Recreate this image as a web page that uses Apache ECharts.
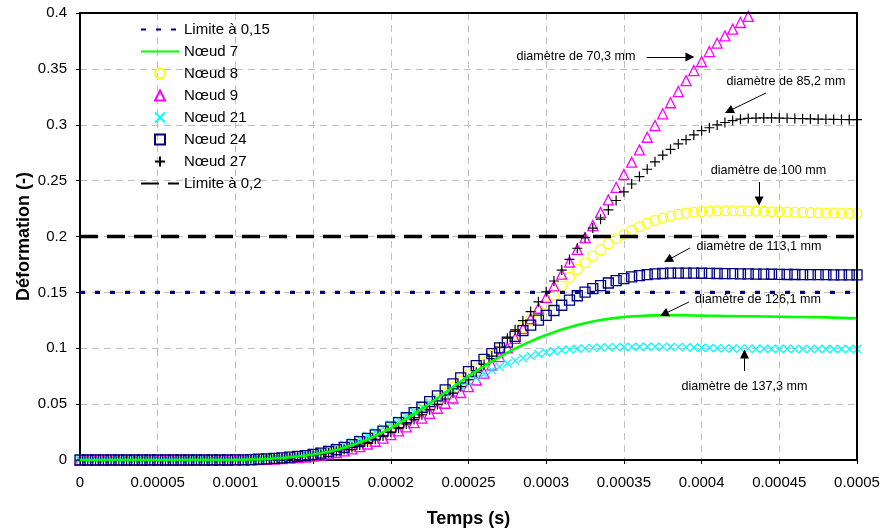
<!DOCTYPE html>
<html><head><meta charset="utf-8">
<script src="https://cdn.jsdelivr.net/npm/echarts@6/dist/echarts.min.js"></script>
<style>html,body{margin:0;padding:0;background:#fff}#c{width:885px;height:531px}</style>
</head><body><div id="c"></div>
<script>
// Time in microseconds
const timeMicros = [
  0,5,10,15,20,25,30,35,40,45,
  50,55,60,65,70,75,80,85,90,95,
  100,105,110,115,120,125,130,135,140,145,
  150,155,160,165,170,175,180,185,190,195,
  200,205,210,215,220,225,230,235,240,245,
  250,255,260,265,270,275,280,285,290,295,
  300,305,310,315,320,325,330,335,340,345,
  350,355,360,365,370,375,380,385,390,395,
  400,405,410,415,420,425,430,435,440,445,
  450,455,460,465,470,475,480,485,490,495,
  500
];
const node7 = [
  0,0,0,0,0,0,0,0,0,0,
  0,0,0,0,0,0,0,0,0,0,
  0.0001,0.0002,0.0004,0.0006,0.0009,0.0013,0.0018,0.0024,0.0031,0.0039,
  0.0049,0.006,0.0074,0.009,0.0109,0.0131,0.0156,0.0184,0.0215,0.0249,
  0.0286,0.0326,0.0368,0.0412,0.0458,0.0506,0.0555,0.0604,0.0653,0.0702,
  0.075,0.0796,0.084,0.0882,0.0922,0.096,0.0996,0.103,0.1062,0.1092,
  0.1119,0.1144,0.1167,0.1188,0.1207,0.1224,0.1239,0.1252,0.1263,0.1272,
  0.1279,0.1285,0.1289,0.1292,0.1294,0.1295,0.1295,0.1295,0.1294,0.1293,
  0.1292,0.1291,0.129,0.1289,0.1288,0.1287,0.1286,0.1285,0.1284,0.1283,
  0.1282,0.1281,0.128,0.1279,0.1278,0.1277,0.1276,0.1274,0.1272,0.127,
  0.1268
];
const node8 = [
  0,0,0,0,0,0,0,0,0,0,
  0,0,0,0,0,0,0,0,0,0,
  0.0001,0.0002,0.0003,0.0006,0.0009,0.0013,0.0018,0.0023,0.003,0.0038,
  0.0047,0.0058,0.0071,0.0087,0.0106,0.0128,0.0153,0.018,0.021,0.0243,
  0.0279,0.0318,0.036,0.0404,0.045,0.0498,0.0548,0.06,0.0653,0.0707,
  0.0762,0.082,0.0879,0.0939,0.1,0.1062,0.1125,0.1188,0.1255,0.1322,
  0.1392,0.1475,0.1555,0.1635,0.1705,0.1765,0.1825,0.188,0.1935,0.198,
  0.2018,0.2055,0.2088,0.2118,0.2143,0.2165,0.2183,0.2198,0.221,0.2218,
  0.2223,0.2227,0.2229,0.223,0.223,0.2229,0.2228,0.2227,0.2225,0.2223,
  0.2221,0.2219,0.2217,0.2215,0.2213,0.2212,0.221,0.2209,0.2208,0.2207,
  0.2206
];
const node9 = [
  0,0,0,0,0,0,0,0,0,0,
  0,0,0,0,0,0,0,0,0,0,
  0.0001,0.0001,0.0002,0.0004,0.0006,0.0009,0.0012,0.0016,0.0021,0.0027,
  0.0034,0.0043,0.0054,0.0067,0.0082,0.01,0.012,0.0143,0.0168,0.0196,
  0.0227,0.026,0.0296,0.0334,0.0375,0.0418,0.0463,0.0508,0.0555,0.0604,
  0.0656,0.0716,0.0778,0.085,0.0925,0.1003,0.1088,0.1175,0.1265,0.1358,
  0.1455,0.1558,0.1663,0.1772,0.1885,0.199,0.2098,0.2215,0.2327,0.244,
  0.2555,0.2665,0.2775,0.2888,0.2993,0.3098,0.3197,0.3297,0.3395,0.3485,
  0.3565,0.3655,0.373,0.3795,0.3855,0.3915,0.397
];
const node21 = [
  0,0,0,0,0,0,0,0,0,0,
  0,0,0,0,0,0,0,0,0,0,
  0.0001,0.0003,0.0005,0.0008,0.0012,0.0017,0.0023,0.003,0.0039,0.005,
  0.0065,0.008,0.0097,0.0116,0.0137,0.016,0.0187,0.0217,0.025,0.0285,
  0.032,0.0357,0.0395,0.0434,0.0473,0.0512,0.055,0.0588,0.0625,0.066,
  0.0698,0.0735,0.077,0.0803,0.0834,0.0863,0.0889,0.0912,0.0932,0.0949,
  0.0962,0.0973,0.0982,0.0989,0.0995,0.0999,0.1003,0.1006,0.1008,0.101,
  0.1011,0.1012,0.1013,0.1013,0.1013,0.1012,0.1011,0.101,0.1008,0.1006,
  0.1004,0.1002,0.1,0.0999,0.0998,0.0997,0.0997,0.0996,0.0996,0.0995,
  0.0995,0.0995,0.0994,0.0994,0.0994,0.0994,0.0993,0.0993,0.0993,0.0993,
  0.0993
];
const node24 = [
  0,0,0,0,0,0,0,0,0,0,
  0,0,0,0,0,0,0,0,0,0,
  0.0001,0.0002,0.0004,0.0007,0.001,0.0014,0.0019,0.0025,0.0032,0.004,
  0.005,0.0062,0.0076,0.0093,0.0113,0.0137,0.0165,0.0193,0.0224,0.0258,
  0.0295,0.0335,0.0378,0.0424,0.0472,0.0522,0.0574,0.0627,0.0681,0.0735,
  0.079,0.0845,0.09,0.0952,0.1003,0.1055,0.1107,0.1158,0.1207,0.1252,
  0.1295,0.1338,0.1385,0.143,0.147,0.1503,0.1533,0.156,0.1584,0.1605,
  0.1623,0.1638,0.165,0.1659,0.1665,0.1669,0.1672,0.1673,0.1673,0.1672,
  0.1671,0.167,0.1669,0.1668,0.1667,0.1666,0.1665,0.1664,0.1663,0.1662,
  0.1661,0.166,0.166,0.1659,0.1659,0.1658,0.1658,0.1657,0.1657,0.1656,
  0.1656
];
const node27 = [
  0,0,0,0,0,0,0,0,0,0,
  0,0,0,0,0,0,0,0,0,0,
  0.0001,0.0001,0.0003,0.0005,0.0007,0.001,0.0014,0.0019,0.0025,0.0032,
  0.004,0.005,0.0062,0.0076,0.0093,0.0112,0.0134,0.0158,0.0185,0.0215,
  0.0248,0.0284,0.0322,0.0362,0.0405,0.045,0.0497,0.0546,0.0598,0.0656,
  0.0718,0.0785,0.0855,0.093,0.101,0.109,0.1165,0.1247,0.1328,0.1415,
  0.1505,0.1602,0.17,0.1795,0.1895,0.199,0.2075,0.2155,0.2238,0.2322,
  0.24,0.247,0.2536,0.2602,0.2668,0.2728,0.278,0.2828,0.2866,0.2909,
  0.2947,0.2973,0.2998,0.302,0.3037,0.305,0.3057,0.306,0.3061,0.3061,
  0.306,0.3058,0.3056,0.3054,0.3052,0.305,0.3049,0.3048,0.3047,0.3046,
  0.3045
];
const limitLow = 0.15;
const limitHigh = 0.2;
const xTickLabels = ['0','0.00005','0.0001','0.00015','0.0002','0.00025','0.0003','0.00035','0.0004','0.00045','0.0005'];
const yTickLabels = ['0','0.05','0.1','0.15','0.2','0.25','0.3','0.35','0.4'];
const seriesNames = ['Limite à 0,15','Nœud 7','Nœud 8','Nœud 9','Nœud 21','Nœud 24','Nœud 27','Limite à 0,2'];
const xTitle = 'Temps (s)';
const yTitle = 'Déformation (-)';
// annotations: text with its anchor (t, value); arrows: [from, to] in data units
const annotationTexts = [
  ['diamètre de 70,3 mm', 0.0003192, 0.3607],
  ['diamètre de 85,2 mm', 0.0004543, 0.3383],
  ['diamètre de 100 mm', 0.000443, 0.2586],
  ['diamètre de 113,1 mm', 0.0004369, 0.1906],
  ['diamètre de 126,1 mm', 0.0004363, 0.1432],
  ['diamètre de 137,3 mm', 0.0004276, 0.0662]
];
const annotationArrows = [
  [[0.0003647, 0.3607], [0.0003925, 0.3607]],
  [[0.0004414, 0.3284], [0.0004176, 0.3123]],
  [[0.000437, 0.2488], [0.000437, 0.2318]],
  [[0.0003925, 0.1897], [0.0003784, 0.179]],
  [[0.0003919, 0.1414], [0.0003758, 0.1306]],
  [[0.0004276, 0.0796], [0.0004276, 0.0949]]
];

const xMin = 0, xMax = 0.0005, xStep = 0.00005;
const yMin = 0, yMax = 0.4, yStep = 0.05;
const toPairs = vals => vals.map((v, i) => [timeMicros[i] * 1e-6, v]);
const FONT = '"Liberation Sans", Arial, sans-serif';

const chart = echarts.init(document.getElementById('c'), null, {renderer: 'canvas'});
const hollow = (symbol, color, size, bw) => ({
  type: 'scatter', symbol: symbol, symbolSize: size, symbolKeepAspect: true,
  itemStyle: {color: 'transparent', borderColor: color, borderWidth: bw, opacity: 1},
  emphasis: {disabled: true}
});
// legend icons drawn inside a 38x10 box (invisible move-to corners keep the aspect)
const iconTri = 'path://M0 0M38 10M19 0L24 10L14 10Z';
const iconRect = 'path://M0 0M38 10M14 0L24 0L24 10L14 10Z';

const series = [
  {name: seriesNames[0], type: 'line', symbol: 'none', data: [[xMin, limitLow], [xMax, limitLow]],
   lineStyle: {color: '#000080', width: 3.3, type: [5, 10]}, itemStyle: {color: '#000080'}},
  {name: seriesNames[1], type: 'line', symbol: 'none', data: toPairs(node7),
   lineStyle: {color: '#00ff00', width: 2.6}, itemStyle: {color: '#00ff00'}},
  Object.assign(hollow('circle', '#ffff00', 10, 1.2), {name: seriesNames[2], data: toPairs(node8)}),
  Object.assign(hollow('triangle', '#ff00ff', 10, 1.3), {name: seriesNames[3], data: toPairs(node9)}),
  Object.assign(hollow('path://M0 0L10 10M10 0L0 10', '#00ffff', 8, 1.3), {name: seriesNames[4], data: toPairs(node21)}),
  Object.assign(hollow('rect', '#000080', 10, 1.3), {name: seriesNames[5], data: toPairs(node24)}),
  Object.assign(hollow('path://M5 0L5 10M0 5L10 5', '#000000', 10, 1.2), {name: seriesNames[6], data: toPairs(node27)}),
  {name: seriesNames[7], type: 'line', symbol: 'none', data: [[xMin, limitHigh], [xMax, limitHigh]],
   lineStyle: {color: '#000000', width: 3.6, type: [18, 9]}, itemStyle: {color: '#000000'}},
  {name: 'annotations', type: 'line', data: [], silent: true,
   markLine: {
     silent: true, animation: false,
     symbol: ['none', 'triangle'], symbolSize: 9,
     label: {show: false},
     itemStyle: {color: '#000'},
     lineStyle: {color: '#000', width: 1, type: 'solid'},
     data: annotationArrows.map(a => [{coord: a[0]}, {coord: a[1]}])
   },
   markPoint: {
     silent: true, animation: false,
     symbol: 'circle', symbolSize: 1,
     itemStyle: {color: 'transparent'},
     label: {show: true, position: 'inside', color: '#000', fontSize: 12.6, fontFamily: FONT,
             formatter: p => p.name},
     data: annotationTexts.map(a => ({name: a[0], coord: [a[1], a[2]]}))
   }
  }
];

const lineLegend = name => ({name: name, itemStyle: {opacity: 0}});
chart.setOption({
  animation: false,
  backgroundColor: '#fff',
  textStyle: {fontFamily: FONT},
  grid: {left: 80, right: 28, top: 13, bottom: 71, show: true, borderWidth: 0, backgroundColor: '#fff',
         containLabel: false, outerBoundsMode: 'none'},
  legend: {
    data: [lineLegend(seriesNames[0]), lineLegend(seriesNames[1]), seriesNames[2],
           {name: seriesNames[3], icon: iconTri},
           seriesNames[4],
           {name: seriesNames[5], icon: iconRect},
           seriesNames[6], lineLegend(seriesNames[7])],
    orient: 'vertical', left: 135, top: 17,
    itemWidth: 38, itemHeight: 10, itemGap: 7,
    textStyle: {fontSize: 15, color: '#000', fontFamily: FONT},
    selectedMode: false
  },
  xAxis: [{
    type: 'value', min: xMin, max: xMax, interval: xStep,
    name: xTitle, nameLocation: 'middle', nameGap: 50, nameMoveOverlap: false,
    nameTextStyle: {fontSize: 18, fontWeight: 'bold', color: '#000', fontFamily: FONT},
    axisLine: {show: true, onZero: false, lineStyle: {color: '#000', width: 2}},
    axisTick: {show: true, inside: false, length: 4, lineStyle: {color: '#000'}},
    axisLabel: {fontSize: 15, color: '#000', margin: 15, fontFamily: FONT,
      formatter: v => xTickLabels[Math.round((v - xMin) / xStep)]},
    splitLine: {show: true, lineStyle: {color: '#c0c0c0', width: 1, type: [7, 5]}}
  }, {
    type: 'value', position: 'top', min: xMin, max: xMax, interval: xStep, z: 5,
    axisLine: {show: true, onZero: false, lineStyle: {color: '#000', width: 2}},
    axisTick: {show: false}, axisLabel: {show: false}, splitLine: {show: false}
  }],
  yAxis: [{
    type: 'value', min: yMin, max: yMax, interval: yStep,
    name: yTitle, nameLocation: 'middle', nameGap: 47, nameMoveOverlap: false,
    nameTextStyle: {fontSize: 18, fontWeight: 'bold', color: '#000', fontFamily: FONT},
    axisLine: {show: true, onZero: false, lineStyle: {color: '#000', width: 2}},
    axisTick: {show: true, inside: false, length: 4, lineStyle: {color: '#000'}},
    axisLabel: {fontSize: 15, color: '#000', margin: 13, fontFamily: FONT,
      formatter: v => yTickLabels[Math.round((v - yMin) / yStep)]},
    splitLine: {show: true, lineStyle: {color: '#c0c0c0', width: 1, type: [7, 5]}}
  }, {
    type: 'value', position: 'right', min: yMin, max: yMax, interval: yStep, z: 5,
    axisLine: {show: true, onZero: false, lineStyle: {color: '#000', width: 2}},
    axisTick: {show: false}, axisLabel: {show: false}, splitLine: {show: false}
  }],
  series: series
});
</script>
</body></html>
